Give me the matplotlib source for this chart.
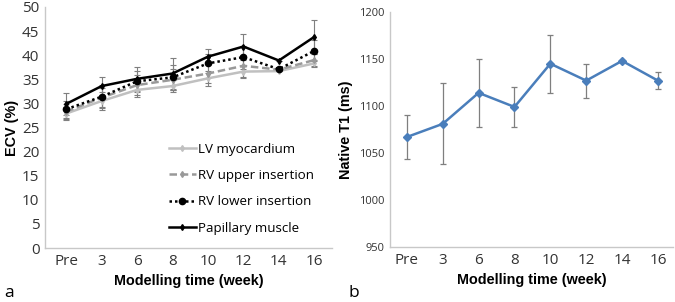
import numpy as np
import matplotlib
matplotlib.use('Agg')
import matplotlib.pyplot as plt

weeks = ['Pre', '3', '6', '8', '10', '12', '14', '16']

# panel a: ECV (%)
lv_myo = [27.9, 30.5, 32.8, 33.6, 35.2, 36.6, 36.7, 38.3]
lv_myo_err = [1.4, 1.8, 1.5, 1.2, 1.5, 1.4, 0.0, 0.8]
rv_upper = [28.3, 31.2, 33.8, 34.9, 36.2, 37.8, 37.0, 39.0]
rv_upper_err = [1.6, 2.0, 2.0, 2.2, 2.0, 2.3, 0.0, 1.3]
rv_lower = [28.8, 31.4, 34.6, 35.4, 38.3, 39.6, 37.1, 40.9]
rv_lower_err = [1.8, 2.4, 2.2, 2.6, 2.0, 2.4, 0.0, 2.2]
papillary = [29.9, 33.6, 35.1, 36.2, 39.7, 41.8, 38.9, 43.8]
papillary_err = [2.3, 1.9, 2.5, 3.2, 1.6, 2.7, 0.0, 3.6]

# panel b: native T1 (ms)
t1 = [1067, 1081, 1114, 1099, 1145, 1127, 1148, 1127]
t1_err = [23, 43, 36, 21, 31, 18, 0, 9]

tick_font = 'Open Sans'
label_font = 'Liberation Sans'
spine_col = '#c8c8c8'
err_col = '#7f7f7f'

fig = plt.figure(figsize=(6.75, 3.02), dpi=100)
ax1 = fig.add_axes([45 / 675, 54 / 302, 287 / 675, 241 / 302])
ax2 = fig.add_axes([390 / 675, 55 / 302, 283 / 675, 235 / 302])

x = np.arange(len(weeks))

series = [
    ('LV myocardium', lv_myo, lv_myo_err, '#c0c0c0', '-', 'd', 3),
    ('RV upper insertion', rv_upper, rv_upper_err, '#999999', (0, (3, 1.5)), 'd', 3),
    ('RV lower insertion', rv_lower, rv_lower_err, '#000000', (0, (1, 1.2)), 'o', 4.5),
    ('Papillary muscle', papillary, papillary_err, '#000000', '-', 'd', 3),
]
for name, vals, errs, col, ls, mk, ms in series:
    ax1.errorbar(x, vals, yerr=errs, fmt='none', ecolor=err_col, elinewidth=0.8,
                 capsize=2, capthick=0.8, zorder=1)
    ax1.plot(x, vals, color=col, linestyle=ls, linewidth=1.8, marker=mk,
             markersize=ms, label=name, zorder=2)

ax1.set_ylim(0, 50)
ax1.set_yticks(np.arange(0, 51, 5))
ax1.set_xlim(-0.6, len(weeks) - 0.5)
ax1.set_xticks(x)
ax1.set_xticklabels(weeks)
ax1.set_ylabel('ECV (%)', fontsize=10.4, fontweight='bold', family=label_font, labelpad=2)
ax1.set_xlabel('Modelling time (week)', fontsize=10.4, fontweight='bold', family=label_font, labelpad=4)
ax1.legend(loc='lower right', bbox_to_anchor=(0.985, 0.0), frameon=False,
           prop={'family': tick_font, 'size': 9.6}, handlelength=2.0, handletextpad=0.2,
           labelspacing=1.0, borderaxespad=0.6)

ax2.errorbar(x, t1, yerr=t1_err, fmt='none', ecolor=err_col, elinewidth=0.9,
             capsize=2, capthick=0.9, zorder=1)
ax2.plot(x, t1, color='#4a7ebb', linewidth=1.8, marker='D', markersize=4.5, zorder=2)
ax2.set_ylim(950, 1200)
ax2.set_yticks(np.arange(950, 1201, 50))
ax2.set_xlim(-0.47, len(weeks) - 0.58)
ax2.set_xticks(x)
ax2.set_xticklabels(weeks)
ax2.set_ylabel('Native T1 (ms)', fontsize=10.4, fontweight='bold', family=label_font, labelpad=4)
ax2.set_xlabel('Modelling time (week)', fontsize=10.4, fontweight='bold', family=label_font, labelpad=4)

for ax, ysize in ((ax1, 11), (ax2, 8)):
    for s in ('top', 'right'):
        ax.spines[s].set_visible(False)
    for s in ('left', 'bottom'):
        ax.spines[s].set_color(spine_col)
        ax.spines[s].set_linewidth(1)
    ax.tick_params(length=0, pad=4)
    for lab in ax.get_xticklabels():
        lab.set_family(tick_font)
        lab.set_fontsize(11)
        lab.set_color('#333333')
    for lab in ax.get_yticklabels():
        lab.set_family(tick_font)
        lab.set_fontsize(ysize)
        lab.set_color('#333333')

fig.text(4 / 675, 5 / 302, 'a', fontsize=12.5, family=tick_font)
fig.text(348 / 675, 5 / 302, 'b', fontsize=12.5, family=tick_font)

fig.savefig('out.png', dpi=100)
